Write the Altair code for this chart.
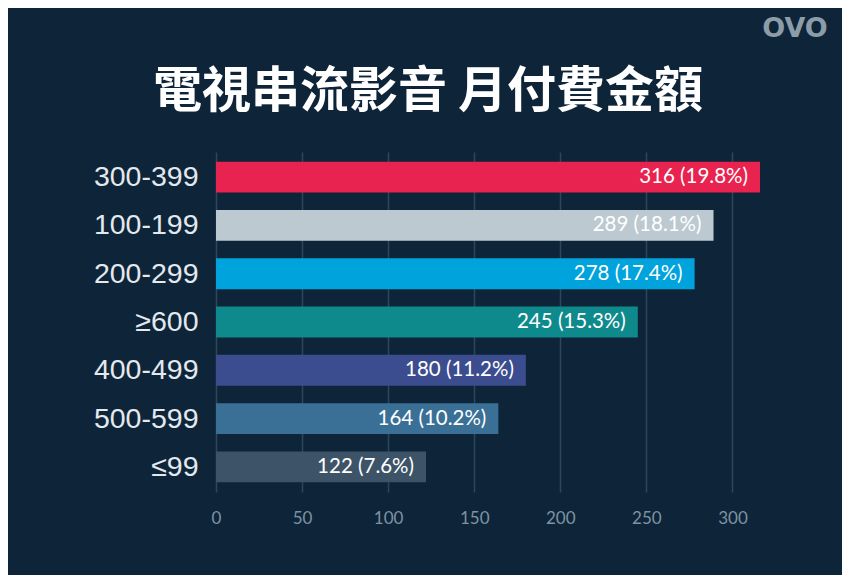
import altair as alt
import pandas as pd

categories = ["300-399", "100-199", "200-299", "≥600", "400-499", "500-599", "≤99"]
counts = [316, 289, 278, 245, 180, 164, 122]
percents = ["19.8%", "18.1%", "17.4%", "15.3%", "11.2%", "10.2%", "7.6%"]
colors = ["#e8234f", "#bcc9d0", "#00a3dc", "#0f8a8c", "#3b4c8f", "#3a7096", "#3d5468"]
title_text = "電視串流影音 月付費金額"
logo_text = "OVO"

df = pd.DataFrame({
    "cat": categories,
    "n": counts,
    "label": [f"{c} ({p})" for c, p in zip(counts, percents)],
})

BG = "#0e2539"

y = alt.Y("cat:N", sort=categories, title=None,
          scale=alt.Scale(paddingInner=0.36, paddingOuter=0.2),
          axis=alt.Axis(ticks=False, domain=False, labelPadding=18,
                        labelFont="Liberation Sans", labelFontSize=28.5,
                        labelColor="#e3e9ee", grid=False))
x = alt.X("n:Q", title=None,
          scale=alt.Scale(domain=[0, 316], nice=False),
          axis=alt.Axis(values=[0, 50, 100, 150, 200, 250, 300], ticks=False,
                        domain=False, labelPadding=18, labelFont="Lato",
                        labelFontSize=17, labelColor="#7d93a3",
                        gridColor="#2c475b", gridWidth=1.5,
                        labelFlush=False))

bars = alt.Chart(df).mark_bar().encode(
    x=x, y=y,
    color=alt.Color("cat:N", scale=alt.Scale(domain=categories, range=colors), legend=None),
)

texts = alt.Chart(df).mark_text(align="right", dx=-12, font="Lato", fontSize=20.5,
                                color="white").encode(
    x="n:Q", y=alt.Y("cat:N", sort=categories), text="label:N")

title = alt.Chart(pd.DataFrame({"t": [title_text]})).mark_text(
    font="Noto Sans CJK TC", fontWeight="bold", fontSize=49, color="white",
    align="center", baseline="middle").encode(
    x=alt.value(212), y=alt.value(-60), text="t:N")

logo = alt.Chart(pd.DataFrame({"t": [logo_text]})).mark_text(
    font="DejaVu Sans", fontWeight="bold", fontSize=27, color="#8c9ca8",
    align="center", baseline="middle").encode(
    x=alt.value(579), y=alt.value(-123), text="t:N")

chart = alt.layer(bars, texts, title, logo).properties(
    width=544, height=340,
    padding={"left": 208, "top": 144, "right": 82, "bottom": 83},
    autosize=alt.AutoSizeParams(type="none"),
    background=BG,
).configure_view(stroke=None)

chart.save("out.html", embed_options={"renderer": "svg", "actions": False})
